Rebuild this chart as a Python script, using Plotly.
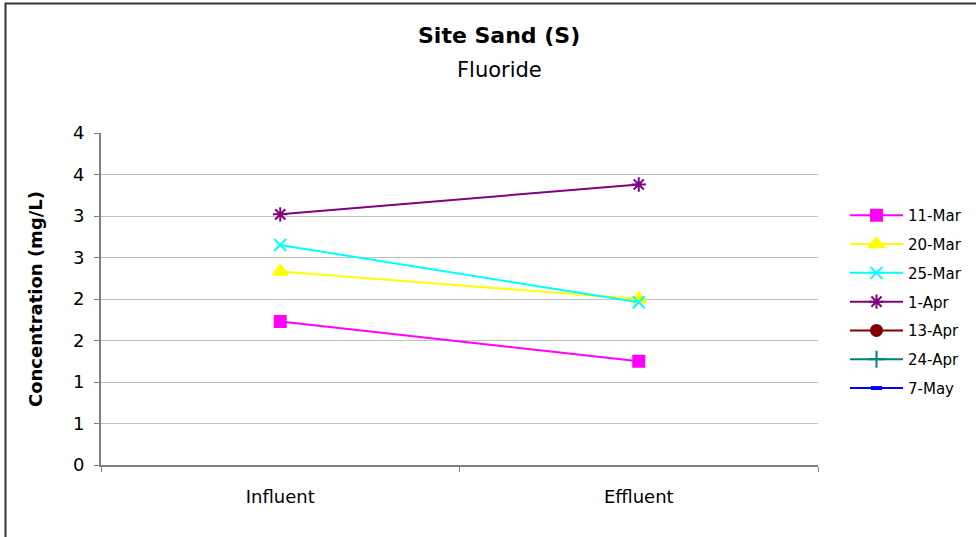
import plotly.graph_objects as go

categories = ["Influent", "Effluent"]
series_names = ["11-Mar", "20-Mar", "25-Mar", "1-Apr", "13-Apr", "24-Apr", "7-May"]
s_11mar = [1.73, 1.25]
s_20mar = [2.33, 2.00]
s_25mar = [2.65, 1.96]
s_1apr = [3.02, 3.38]
s_13apr = [None, None]
s_24apr = [None, None]
s_7may = [None, None]
y_tickvals = [0, 0.5, 1, 1.5, 2, 2.5, 3, 3.5, 4]
y_ticktext = ["0", "1", "1", "2", "2", "3", "3", "4", "4"]

series_values = [s_11mar, s_20mar, s_25mar, s_1apr, s_13apr, s_24apr, s_7may]
colors = ["#FF00FF", "#FFFF00", "#00FFFF", "#800080", "#800000", "#008080", "#0000FF"]
symbols = ["square", "triangle-up", "x-thin-open", "asterisk-open", "circle", "cross-thin-open", "line-ew-open"]
sizes = [11, 13, 12, 12, 11, 12, 8]
mline_w = [2, 2, 2, 2, 2, 2, 4]

fig = go.Figure()
for i, (name, vals) in enumerate(zip(series_names, series_values)):
    fig.add_trace(go.Scatter(
        x=categories, y=vals, name=name, mode="lines+markers",
        line=dict(color=colors[i], width=2),
        marker=dict(symbol=symbols[i], size=sizes[i], color=colors[i],
                    line=dict(color=colors[i], width=mline_w[i])),
        legendgroup=name,
    ))

font_family = "DejaVu Sans, Verdana, sans-serif"
fig.update_layout(
    width=976, height=537,
    margin=dict(l=101, r=158, t=133, b=72, autoexpand=False),
    paper_bgcolor="white", plot_bgcolor="white",
    font=dict(family=font_family, size=18, color="black"),
    showlegend=True,
    legend=dict(x=(845 - 101) / 717, y=(465 - 199) / 332, xanchor="left", yanchor="top",
                font=dict(size=15), tracegroupgap=6.3, itemwidth=53,
                bgcolor="rgba(0,0,0,0)"),
    xaxis=dict(type="category", tickson="boundaries", ticks="outside", ticklen=5,
               tickcolor="#808080", showline=True, linecolor="#808080", linewidth=2,
               showgrid=False, tickfont=dict(size=18), range=[-0.5, 1.5],
               ticklabelstandoff=14),
    yaxis=dict(range=[0, 4], tickvals=y_tickvals, ticktext=y_ticktext,
               ticks="outside", ticklen=5, tickcolor="#808080",
               showline=True, linecolor="#808080", linewidth=2,
               showgrid=True, gridcolor="#C0C0C0", gridwidth=1, zeroline=False,
               tickfont=dict(size=18), ticklabelstandoff=6,
               title=dict(text="<b>Concentration (mg/L)</b>", font=dict(size=18), standoff=26)),
    annotations=[
        dict(text="<b>Site Sand (S)</b>", x=(499 - 101) / 717, y=(465 - 36) / 332,
             xref="paper", yref="paper", showarrow=False, font=dict(size=22),
             xanchor="center", yanchor="middle"),
        dict(text="Fluoride", x=(499 - 101) / 717, y=(465 - 70) / 332,
             xref="paper", yref="paper", showarrow=False, font=dict(size=21),
             xanchor="center", yanchor="middle"),
    ],
    shapes=[
        dict(type="rect", xref="paper", yref="paper",
             x0=(5.5 - 101) / 717, x1=(1000 - 101) / 717,
             y0=(465 - 560) / 332, y1=(465 - 3.5) / 332,
             line=dict(color="#333333", width=2), fillcolor="rgba(0,0,0,0)", layer="below"),
    ],
)

fig.write_html("out.html", config={"displayModeBar": False},
               post_script="document.body.style.margin='0';")
